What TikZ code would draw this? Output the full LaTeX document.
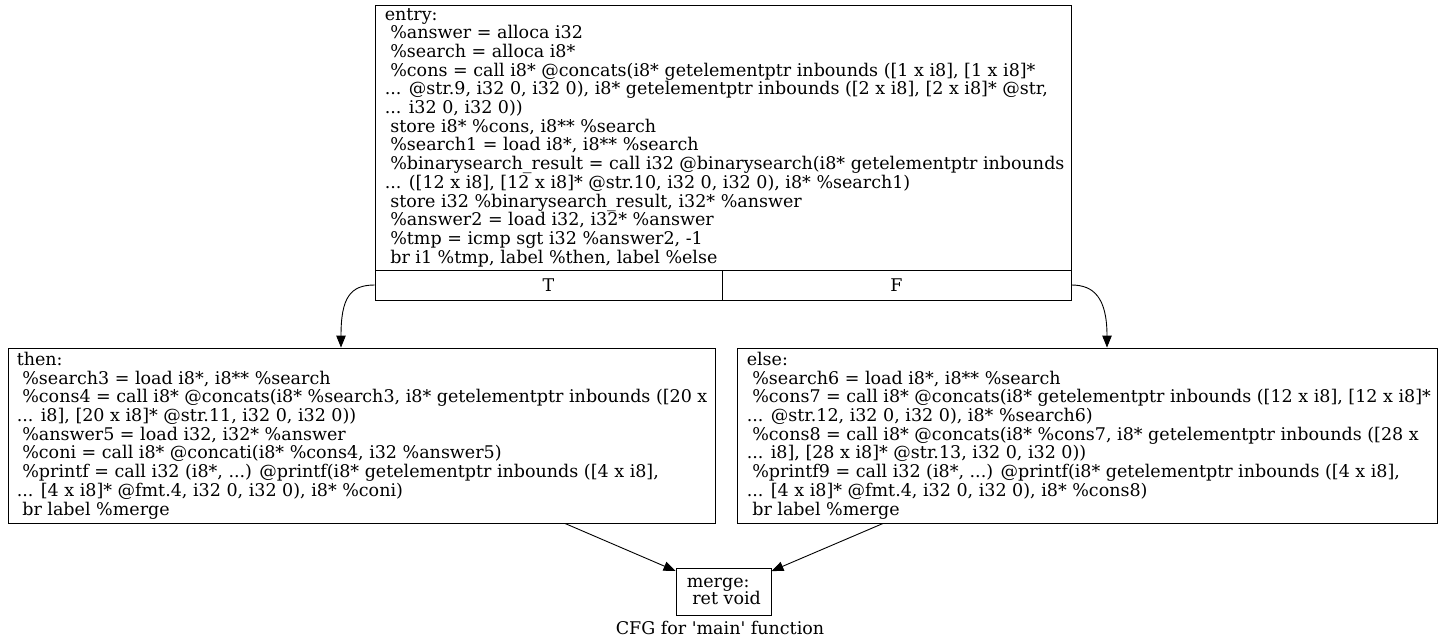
\documentclass[tikz,border=0pt]{standalone}
\usepackage{fontspec}
\setmainfont{DejaVu Serif}
\usetikzlibrary{arrows.meta}
\newcommand\myind{\mbox{\ }}
\newcommand\blkfont{\fontsize{17.5}{18.7}\selectfont\lineskiplimit=-50pt\relax}
\tikzset{
  blockbox/.style={draw, line width=0.9pt, inner sep=0pt, fill=white},
  blocktxt/.style={font=\blkfont, align=left, inner sep=0pt, anchor=west},
  portlbl/.style={draw, line width=0.9pt, inner sep=0pt, font=\blkfont},
  edge/.style={line width=0.9pt, -{Triangle[length=12pt,width=9.5pt]}},
}
\begin{document}
\begin{tikzpicture}[x=1pt,y=-1pt]
\useasboundingbox (0,0) rectangle (1443,641);
% entry block
\node[blockbox, minimum width=696pt, minimum height=265pt] (entry) at (723,137.5) {};
\node[portlbl, minimum width=347pt, minimum height=30pt] (entryT) at (548.5,285) {T};
\node[portlbl, minimum width=349pt, minimum height=30pt] (entryF) at (896.5,285) {F};
\node[blocktxt] (entrytxt) at ([xshift=10pt]entry.west) {entry:\\
\myind\%answer = alloca i32\\
\myind\%search = alloca i8*\\
\myind\%cons = call i8* @concats(i8* getelementptr inbounds ([1 x i8], [1 x i8]*\\
... @str.9, i32 0, i32 0), i8* getelementptr inbounds ([2 x i8], [2 x i8]* @str,\\
... i32 0, i32 0))\\
\myind store i8* \%cons, i8** \%search\\
\myind\%search1 = load i8*, i8** \%search\\
\myind\%binarysearch\_result = call i32 @binarysearch(i8* getelementptr inbounds\\
... ([12 x i8], [12 x i8]* @str.10, i32 0, i32 0), i8* \%search1)\\
\myind store i32 \%binarysearch\_result, i32* \%answer\\
\myind\%answer2 = load i32, i32* \%answer\\
\myind\%tmp = icmp sgt i32 \%answer2, -1\\
\myind br i1 \%tmp, label \%then, label \%else};
% then block
\node[blockbox, minimum width=707pt, minimum height=175pt] (then) at (361.5,435.5) {};
\node[blocktxt] (thentxt) at ([xshift=9pt]then.west) {then:\\
\myind\%search3 = load i8*, i8** \%search\\
\myind\%cons4 = call i8* @concats(i8* \%search3, i8* getelementptr inbounds ([20 x\\
... i8], [20 x i8]* @str.11, i32 0, i32 0))\\
\myind\%answer5 = load i32, i32* \%answer\\
\myind\%coni = call i8* @concati(i8* \%cons4, i32 \%answer5)\\
\myind\%printf = call i32 (i8*, ...) @printf(i8* getelementptr inbounds ([4 x i8],\\
... [4 x i8]* @fmt.4, i32 0, i32 0), i8* \%coni)\\
\myind br label \%merge};
% else block
\node[blockbox, minimum width=700pt, minimum height=175pt] (else) at (1087,435.5) {};
\node[blocktxt] (elsetxt) at ([xshift=10pt]else.west) {else:\\
\myind\%search6 = load i8*, i8** \%search\\
\myind\%cons7 = call i8* @concats(i8* getelementptr inbounds ([12 x i8], [12 x i8]*\\
... @str.12, i32 0, i32 0), i8* \%search6)\\
\myind\%cons8 = call i8* @concats(i8* \%cons7, i8* getelementptr inbounds ([28 x\\
... i8], [28 x i8]* @str.13, i32 0, i32 0))\\
\myind\%printf9 = call i32 (i8*, ...) @printf(i8* getelementptr inbounds ([4 x i8],\\
... [4 x i8]* @fmt.4, i32 0, i32 0), i8* \%cons8)\\
\myind br label \%merge};
% merge block
\node[blockbox, minimum width=95pt, minimum height=47pt] (merge) at (723.5,591.5) {};
\node[blocktxt, font=\fontsize{17.5}{17.5}\selectfont] (mergetxt) at ([xshift=11pt]merge.west) {merge:\\
\myind ret void};
% caption
\node[font=\blkfont, inner sep=0pt] (caption) at (720,628) {CFG for \textquotesingle main\textquotesingle{} function};
% edges
\draw[edge] (entryT.west) .. controls (350,285) and (341,298) .. ([xshift=-20.5pt]then.north);
\draw[edge] (entryF.east) .. controls (1094,285) and (1107,298) .. ([xshift=20pt]else.north);
\draw[edge] ([xshift=203.5pt]then.south) -- (merge);
\draw[edge] ([xshift=-204pt]else.south) -- (merge);
\end{tikzpicture}
\end{document}
